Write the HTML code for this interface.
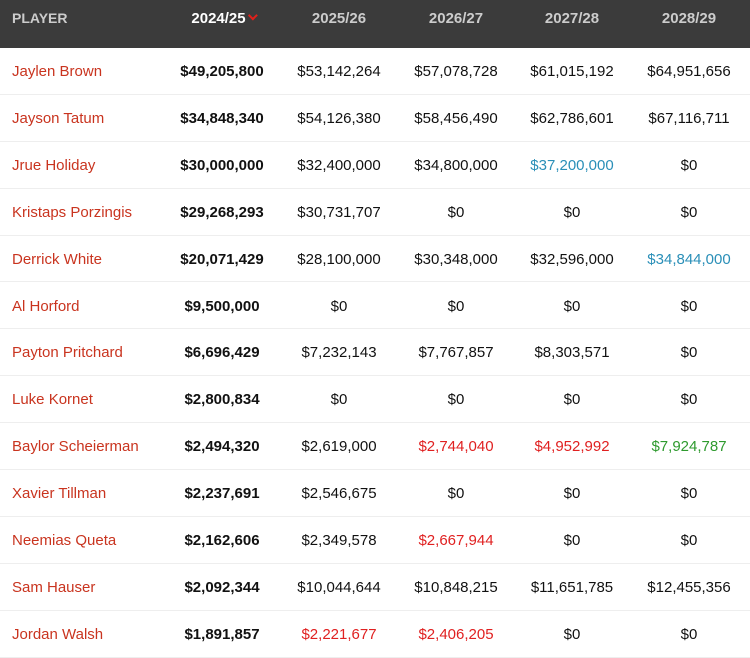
<!DOCTYPE html>
<html><head><style>
body{margin:0;width:750px;height:658px;overflow:hidden;background:#fff;font-family:"Liberation Sans",Arial,sans-serif;}
.hd{position:absolute;left:0;top:0;width:750px;height:48px;background:#3b3b3b;}
.hd div{position:absolute;top:10px;font-weight:bold;font-size:15px;color:#ccc;transform:translateX(-50%);}
.r{position:absolute;left:0;width:750px;height:46.9px;border-bottom:1px solid #eee;box-sizing:border-box;font-size:15px;color:#111;}
.r div{position:absolute;top:15px;transform:translateX(-50%);white-space:nowrap;}
.r .n{left:12px;transform:none;color:#c9341f;}
.r .b{font-weight:bold;}
.red{color:#e02020}.blue{color:#2a8fb8}.grn{color:#2e9a2e}
.chev{display:inline-block;width:5px;height:5px;border-right:2.5px solid #e0201a;border-bottom:2.5px solid #e0201a;transform:rotate(45deg);margin-left:4px;position:relative;top:-4px}
</style></head><body>
<div class="hd">
<div style="left:12px;transform:none;font-size:14px">PLAYER</div>
<div style="left:224px;color:#fff">2024/25<span class="chev"></span></div>
<div style="left:339px">2025/26</div>
<div style="left:456px">2026/27</div>
<div style="left:572px">2027/28</div>
<div style="left:689px">2028/29</div>
</div>
<div id="t"></div>
<script>
var d=[["Jaylen Brown","$49,205,800","$53,142,264","$57,078,728","$61,015,192","$64,951,656"],
["Jayson Tatum","$34,848,340","$54,126,380","$58,456,490","$62,786,601","$67,116,711"],
["Jrue Holiday","$30,000,000","$32,400,000","$34,800,000","b$37,200,000","$0"],
["Kristaps Porzingis","$29,268,293","$30,731,707","$0","$0","$0"],
["Derrick White","$20,071,429","$28,100,000","$30,348,000","$32,596,000","b$34,844,000"],
["Al Horford","$9,500,000","$0","$0","$0","$0"],
["Payton Pritchard","$6,696,429","$7,232,143","$7,767,857","$8,303,571","$0"],
["Luke Kornet","$2,800,834","$0","$0","$0","$0"],
["Baylor Scheierman","$2,494,320","$2,619,000","r$2,744,040","r$4,952,992","g$7,924,787"],
["Xavier Tillman","$2,237,691","$2,546,675","$0","$0","$0"],
["Neemias Queta","$2,162,606","$2,349,578","r$2,667,944","$0","$0"],
["Sam Hauser","$2,092,344","$10,044,644","$10,848,215","$11,651,785","$12,455,356"],
["Jordan Walsh","$1,891,857","r$2,221,677","r$2,406,205","$0","$0"]];
var xs=[222,339,456,572,689],h="";
d.forEach(function(r,i){h+='<div class="r" style="top:'+(48+i*46.9)+'px"><div class="n">'+r[0]+'</div>';
for(var j=1;j<6;j++){var v=r[j],c="";if(v[0]=="r"){c="red";v=v.slice(1)}else if(v[0]=="b"){c="blue";v=v.slice(1)}else if(v[0]=="g"){c="grn";v=v.slice(1)}
if(j==1)c="b";h+='<div class="'+c+'" style="left:'+xs[j-1]+'px">'+v+'</div>';}h+='</div>';});
document.getElementById("t").innerHTML=h;
</script>
</body></html>
